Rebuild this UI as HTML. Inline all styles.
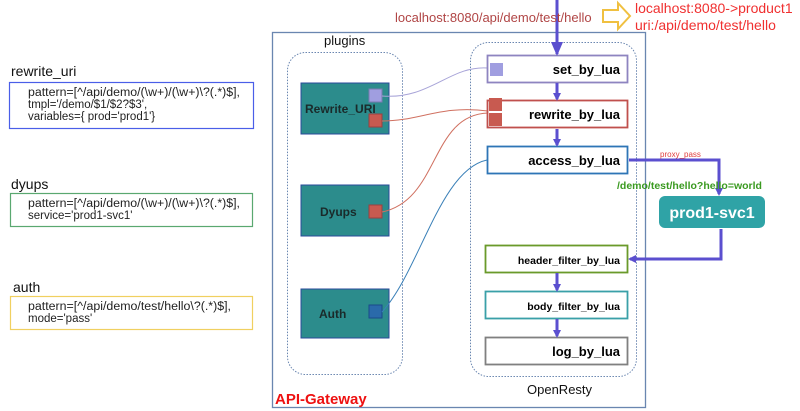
<!DOCTYPE html>
<html><head><meta charset="utf-8"><style>
html,body{margin:0;padding:0;background:#fff;}
svg{display:block;font-family:"Liberation Sans",Arial,sans-serif;}
</style></head><body>
<svg width="800" height="411" viewBox="0 0 800 411" xmlns="http://www.w3.org/2000/svg">
<defs>
<marker id="ah" markerWidth="8" markerHeight="8" refX="6" refY="4" orient="auto" markerUnits="userSpaceOnUse"><path d="M0,0 L8,4 L0,8 z" fill="#5b4fcf"/></marker>
<marker id="pa" markerWidth="14" markerHeight="12" refX="12" refY="6" orient="auto" markerUnits="userSpaceOnUse"><path d="M0,0 L14,6 L0,12 z" fill="#5b4fcf"/></marker>
</defs>
<!-- left config boxes -->
<text x="11" y="76" font-size="14" fill="#111">rewrite_uri</text>
<rect x="9.5" y="82.5" width="244" height="46" fill="#fff" stroke="#4a5ee8" stroke-width="1.2"/>
<g font-size="11.5" fill="#222">
<text x="28" y="96" textLength="212" lengthAdjust="spacingAndGlyphs">pattern=[^/api/demo/(\w+)/(\w+)\?(.*)$],</text>
<text x="28" y="108">tmpl='/demo/$1/$2?$3',</text>
<text x="28" y="120">variables={ prod='prod1'}</text>
</g>
<text x="11" y="189" font-size="14" fill="#111">dyups</text>
<rect x="10.5" y="193.5" width="242" height="33" fill="#fff" stroke="#5aa870" stroke-width="1.2"/>
<g font-size="11.5" fill="#222">
<text x="28" y="207" textLength="212" lengthAdjust="spacingAndGlyphs">pattern=[^/api/demo/(\w+)/(\w+)\?(.*)$],</text>
<text x="28" y="219">service='prod1-svc1'</text>
</g>
<text x="13" y="292" font-size="14" fill="#111">auth</text>
<rect x="10.5" y="296.5" width="242" height="33" fill="#fff" stroke="#f0d060" stroke-width="1.2"/>
<g font-size="11.5" fill="#222">
<text x="28" y="310" textLength="203" lengthAdjust="spacingAndGlyphs">pattern=[^/api/demo/test/hello\?(.*)$],</text>
<text x="28" y="322">mode='pass'</text>
</g>
<!-- gateway -->
<rect x="272.5" y="32.5" width="373" height="375" fill="none" stroke="#6a86b0" stroke-width="1.3"/>
<text x="275" y="404" font-size="15" font-weight="bold" fill="#ee1111">API-Gateway</text>
<text x="324" y="45" font-size="13" fill="#111">plugins</text>
<rect x="287.5" y="52.5" width="115" height="322" rx="18" fill="none" stroke="#6a86b0" stroke-dasharray="1.5,1.5"/>
<rect x="470.5" y="42.5" width="166" height="334" rx="18" fill="none" stroke="#6a86b0" stroke-dasharray="1.5,1.5"/>
<text x="527" y="394" font-size="13" fill="#111">OpenResty</text>
<!-- plugin boxes -->
<rect x="301" y="83" width="88" height="51" fill="#2c8c8c" stroke="#2a4a9a"/>
<text x="305" y="113" font-size="12" font-weight="bold" fill="#1a2a2a">Rewrite_URI</text>
<rect x="369" y="89" width="13" height="13" fill="#a09ee0" stroke="#7a7ab0"/>
<rect x="369" y="114" width="13" height="13" fill="#c85a50" stroke="#9a4040"/>
<rect x="301" y="185" width="88" height="51" fill="#2c8c8c" stroke="#2a4a9a"/>
<text x="320" y="216" font-size="12" font-weight="bold" fill="#1a2a2a">Dyups</text>
<rect x="369" y="205" width="13" height="13" fill="#c85a50" stroke="#9a4040"/>
<rect x="301" y="289" width="88" height="49" fill="#2c8c8c" stroke="#2a4a9a"/>
<text x="319" y="318" font-size="12" font-weight="bold" fill="#1a2a2a">Auth</text>
<rect x="369" y="305" width="13" height="13" fill="#2a6aaa" stroke="#1a4a8a"/>
<!-- curves -->
<path d="M382,96 C430,100 450,65 488,68" fill="none" stroke="#a8a4d8" stroke-width="1"/>
<path d="M382,121 C420,121 440,105 488,111" fill="none" stroke="#d07060" stroke-width="1"/>
<path d="M382,212 C440,200 430,115 488,113" fill="none" stroke="#d07060" stroke-width="1"/>
<path d="M382,312 C420,270 440,170 487,160" fill="none" stroke="#3a80b8" stroke-width="1"/>
<!-- phases -->
<rect x="487.5" y="55.5" width="140" height="27" fill="#fff" stroke="#8e84c0" stroke-width="1.8"/>
<rect x="490" y="63" width="13" height="13" fill="#a09ee0"/>
<text x="620" y="74" font-size="13" font-weight="bold" text-anchor="end">set_by_lua</text>
<rect x="487.5" y="100.5" width="140" height="27" fill="#fff" stroke="#c0504d" stroke-width="1.8"/>
<rect x="489" y="98" width="13" height="13" fill="#c85a50"/>
<rect x="489" y="113" width="13" height="13" fill="#c85a50"/>
<text x="620" y="119" font-size="13" font-weight="bold" text-anchor="end">rewrite_by_lua</text>
<rect x="487.5" y="146.5" width="140" height="27" fill="#fff" stroke="#2e75b6" stroke-width="1.8"/>
<text x="620" y="165" font-size="13" font-weight="bold" text-anchor="end">access_by_lua</text>
<rect x="485.5" y="245.5" width="142" height="27" fill="#fff" stroke="#6a9a2a" stroke-width="1.8"/>
<text x="620" y="264" font-size="10.5" font-weight="bold" text-anchor="end">header_filter_by_lua</text>
<rect x="485.5" y="291.5" width="142" height="27" fill="#fff" stroke="#3aa0a8" stroke-width="1.8"/>
<text x="620" y="310" font-size="10.5" font-weight="bold" text-anchor="end">body_filter_by_lua</text>
<rect x="485.5" y="337.5" width="142" height="27" fill="#fff" stroke="#808080" stroke-width="1.8"/>
<text x="620" y="356" font-size="13" font-weight="bold" text-anchor="end">log_by_lua</text>
<!-- phase arrows -->
<g stroke="#5b4fcf" stroke-width="3" fill="none">
<line x1="557" y1="83" x2="557" y2="99" marker-end="url(#ah)"/>
<line x1="557" y1="129" x2="557" y2="145" marker-end="url(#ah)"/>
<line x1="557" y1="273" x2="557" y2="290" marker-end="url(#ah)"/>
<line x1="557" y1="319" x2="557" y2="336" marker-end="url(#ah)"/>
<line x1="557" y1="0" x2="557" y2="54" marker-end="url(#pa)"/>
<polyline points="629,160 719,160 719,194" marker-end="url(#ah)"/>
<polyline points="721,229 721,259 630,259" marker-end="url(#ah)"/>
</g>
<!-- top labels -->
<text x="395" y="22" font-size="13" fill="#b04545">localhost:8080/api/demo/test/hello</text>
<path d="M603,10 L618,10 L618,3 L630,16 L618,29 L618,22 L603,22 z" fill="#fff" stroke="#f0c040" stroke-width="2"/>
<text x="635" y="13" font-size="14" fill="#f03030">localhost:8080-&gt;product1</text>
<text x="635" y="30" font-size="14" fill="#f03030">uri:/api/demo/test/hello</text>
<text x="660" y="157" font-size="8" fill="#e04040">proxy_pass</text>
<text x="617" y="189" font-size="10.5" font-weight="bold" fill="#3a9a20">/demo/test/hello?hello=world</text>
<rect x="659" y="196" width="106" height="32" rx="6" fill="#2fa3a6"/>
<text x="712" y="218" font-size="16" font-weight="bold" fill="#fff" text-anchor="middle">prod1-svc1</text>
</svg>
</body></html>
